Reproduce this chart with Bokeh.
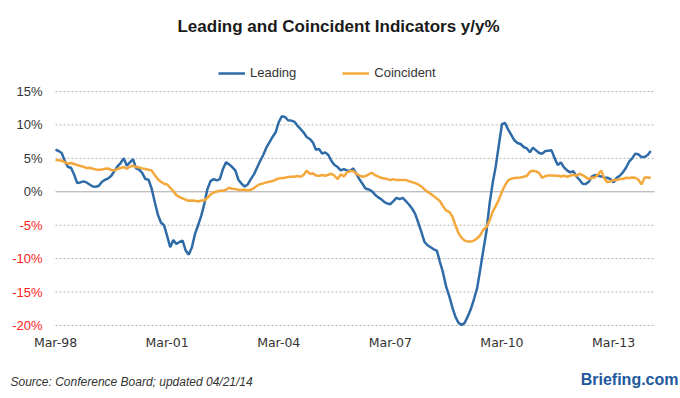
from bokeh.plotting import figure
from bokeh.models import (Range1d, FixedTicker, Legend, LegendItem, Label, LinearAxis)
from bokeh.embed import file_html
from bokeh.resources import INLINE

# Monthly y/y % change, Mar-98 .. Mar-14
leading = [
    6.3, 6.1, 5.8, 4.6, 3.7, 3.6, 2.6, 1.3, 1.4, 1.55, 1.4, 1.1,
    0.8, 0.75, 0.9, 1.5, 1.8, 2.0, 2.4, 3.1, 3.8, 4.3, 5.0, 3.9,
    4.4, 4.9, 3.5, 3.3, 2.8, 1.9, 1.8, 0.5, -1.5, -3.4, -4.6, -5.0,
    -6.6, -8.3, -7.2, -7.8, -7.5, -7.3, -8.8, -9.4, -8.3, -6.3, -5.0, -3.6,
    -1.8, 0.4, 1.6, 1.9, 1.7, 1.9, 3.4, 4.4, 4.1, 3.7, 3.2, 1.8,
    1.2, 0.8, 1.1, 1.9, 2.6, 3.6, 4.6, 5.5, 6.6, 7.4, 8.2, 8.9,
    10.4, 11.3, 11.2, 10.7, 10.65, 10.5, 9.9, 9.4, 8.9, 8.2, 7.9, 7.4,
    6.3, 6.4, 5.7, 5.9, 5.5, 4.6, 4.0, 3.7, 3.2, 3.4, 3.2, 3.1,
    3.5, 2.7, 1.9, 1.2, 0.5, 0.35, 0.1, -0.4, -0.8, -1.1, -1.5, -1.75,
    -1.85, -1.4, -0.9, -1.1, -0.9, -1.4, -1.9, -2.5, -3.3, -4.6, -6.0, -7.5,
    -8.0, -8.3, -8.6, -8.8, -10.5, -12.1, -14.2, -15.6, -17.3, -18.7, -19.6, -19.9,
    -19.6, -18.6, -17.5, -16.0, -14.4, -11.6, -8.7, -5.9, -1.8, 1.3, 3.8, 7.0,
    10.1, 10.3, 9.3, 8.5, 7.7, 7.3, 7.15, 6.7, 6.5, 5.9, 6.6, 6.2,
    5.8, 5.7, 6.1, 6.15, 6.2, 5.0, 4.0, 4.4, 3.65, 3.2, 2.9, 3.1,
    2.3, 1.8, 1.2, 1.15, 1.5, 2.3, 2.5, 2.4, 2.3, 2.15, 2.1, 1.9,
    1.4, 2.1, 2.4, 2.9, 3.6, 4.5, 5.0, 5.7, 5.6, 5.2, 5.2, 5.5,
    6.1,
]
coincident = [
    4.75, 4.7, 4.65, 4.4, 4.2, 4.3, 4.15, 4.0, 3.85, 3.75, 3.55, 3.6,
    3.45, 3.35, 3.3, 3.35, 3.45, 3.5, 3.25, 3.2, 3.4, 3.55, 3.7, 3.45,
    3.75, 3.9, 3.7, 3.65, 3.5, 3.4, 3.3, 3.2, 2.5, 1.9, 1.5, 1.2,
    1.1, 0.6, 0.1, -0.5, -0.8, -1.0, -1.2, -1.35, -1.3, -1.35, -1.45, -1.3,
    -1.3, -0.9, -0.4, -0.1, 0.05, 0.15, 0.15, 0.3, 0.6, 0.45, 0.4, 0.3,
    0.25, 0.3, 0.2, 0.3, 0.55, 0.9, 1.15, 1.25, 1.4, 1.5, 1.6, 1.8,
    2.0, 2.05, 2.1, 2.2, 2.25, 2.25, 2.35, 2.25, 2.5, 3.15, 2.7, 2.75,
    2.45, 2.4, 2.5, 2.4, 2.55, 2.7, 2.4, 1.9, 2.6, 2.3, 2.9, 3.1,
    3.1, 2.7, 2.45, 2.25, 2.35, 2.6, 2.85, 2.5, 2.3, 2.1, 2.0, 1.9,
    1.75, 1.9, 1.75, 1.75, 1.75, 1.75, 1.6, 1.45, 1.3, 1.1, 0.8, 0.35,
    0.0, -0.3, -0.65, -1.0, -1.4, -2.2, -2.8, -3.0, -3.7, -5.0, -6.2, -6.9,
    -7.3, -7.45, -7.45, -7.3, -6.95, -6.5, -5.65, -5.3, -4.3, -3.0, -2.1, -1.2,
    0.0, 1.0, 1.7, 1.95, 2.05, 2.1, 2.15, 2.25, 2.35, 3.0, 3.15, 3.05,
    2.8, 2.1, 2.35, 2.45, 2.45, 2.4, 2.4, 2.3, 2.4, 2.25, 2.4, 2.55,
    2.4, 2.7, 2.5, 2.2, 1.9, 2.1, 2.15, 2.6, 3.2, 2.0, 1.45, 1.55,
    1.75, 1.75, 1.9, 1.9, 2.1, 2.05, 2.15, 2.1, 1.8, 1.1, 2.15, 2.15,
    2.05,
]
months = list(range(len(leading)))

x_tick_months = [0, 36, 72, 108, 144, 180]
x_tick_labels = ["Mar-98", "Mar-01", "Mar-04", "Mar-07", "Mar-10", "Mar-13"]
y_pos_ticks = [0, 5, 10, 15]
y_pos_labels = ["0%", "5%", "10%", "15%"]
y_neg_ticks = [-5, -10, -15, -20]
y_neg_labels = ["-5%", "-10%", "-15%", "-20%"]
y_dashed_ticks = [15, 10, 5, -5, -10, -15, -20]

title_text = "Leading and Coincident Indicators y/y%"
source_text = "Source: Conference Board; updated 04/21/14"
brand_text = "Briefing.com"

BLUE = "#2f6ba7"
ORANGE = "#f4a83c"
TXT = "#333333"

# ---- layout geometry (pixels) ----
W, H = 680, 398
PLOT_L, PLOT_R, PLOT_T, PLOT_B = 55, 654, 91, 325
X0, X1 = 0.0, 193.2          # months shown across the plot area
Y0, Y1 = -20.0, 15.0         # % shown across the plot area
sx = (PLOT_R - PLOT_L) / (X1 - X0)
sy = (PLOT_B - PLOT_T) / (Y1 - Y0)
x_range = Range1d(X0 - PLOT_L / sx, X1 + (W - PLOT_R) / sx)
y_range = Range1d(Y0 - (H - PLOT_B) / sy, Y1 + PLOT_T / sy)

p = figure(width=W, height=H, output_backend="svg", toolbar_location=None,
           title=None, x_range=x_range, y_range=y_range,
           x_axis_location=None, y_axis_location=None,
           min_border_left=0, min_border_right=0, min_border_top=0, min_border_bottom=0)
p.outline_line_color = None
p.background_fill_color = "white"
p.border_fill_color = "white"
p.grid.visible = False

# gridlines across the plot area only
p.segment(x0=X0, x1=X1, y0=y_dashed_ticks, y1=y_dashed_ticks,
          line_color="#b3b3b3", line_width=1, line_dash="2 2")
p.segment(x0=X0, x1=X1, y0=[0], y1=[0], line_color="#a6a6a6", line_width=1)

# x axis pinned at the bottom of the plot area
xa = LinearAxis(fixed_location=Y0, ticker=FixedTicker(ticks=x_tick_months),
                major_label_overrides=dict(zip(x_tick_months, x_tick_labels)))
xa.axis_line_color = None
xa.major_tick_line_color = None
xa.minor_tick_line_color = None
xa.major_tick_out = 0
xa.major_tick_in = 0
xa.major_label_standoff = 9
xa.major_label_text_font = "DejaVu Sans"
xa.major_label_text_font_size = "12.5px"
xa.major_label_text_color = TXT
p.add_layout(xa, "below")


def y_axis(ticks, labels, color):
    ax = LinearAxis(fixed_location=X0, ticker=FixedTicker(ticks=ticks),
                    major_label_overrides=dict(zip(ticks, labels)))
    ax.axis_line_color = None
    ax.major_tick_line_color = None
    ax.minor_tick_line_color = None
    ax.major_tick_out = 0
    ax.major_tick_in = 0
    ax.major_label_standoff = 13
    ax.major_label_text_font = "Liberation Sans"
    ax.major_label_text_font_size = "13px"
    ax.major_label_text_color = color
    p.add_layout(ax, "left")


y_axis(y_pos_ticks, y_pos_labels, TXT)
y_axis(y_neg_ticks, y_neg_labels, "#ff2020")

# series
r1 = p.line(months, leading, line_color=BLUE, line_width=2.5)
r2 = p.line(months, coincident, line_color=ORANGE, line_width=2.5)

legend = Legend(items=[LegendItem(label="Leading", renderers=[r1]),
                       LegendItem(label="Coincident", renderers=[r2])],
                orientation="horizontal", location=(218, H - 80),
                glyph_width=27, glyph_height=14, label_height=14,
                label_standoff=5, spacing=46, padding=0, margin=0,
                border_line_color=None, background_fill_alpha=0,
                label_text_font="Liberation Sans", label_text_font_size="13px",
                label_text_color=TXT)
p.add_layout(legend)

p.add_layout(Label(x=338, y=H - 26, x_units="screen", y_units="screen", text=title_text,
                   text_align="center", text_baseline="middle",
                   text_font="Liberation Sans", text_font_style="bold",
                   text_font_size="17px", text_color="#1a1a1a"))
p.add_layout(Label(x=10, y=H - 381, x_units="screen", y_units="screen", text=source_text,
                   text_align="left", text_baseline="middle",
                   text_font="Liberation Sans", text_font_style="italic",
                   text_font_size="12px", text_color=TXT))
p.add_layout(Label(x=678, y=H - 379, x_units="screen", y_units="screen", text=brand_text,
                   text_align="right", text_baseline="middle",
                   text_font="Liberation Sans", text_font_style="bold",
                   text_font_size="16px", text_color="#22599d"))

open("out.html", "w").write(file_html(p, INLINE))
